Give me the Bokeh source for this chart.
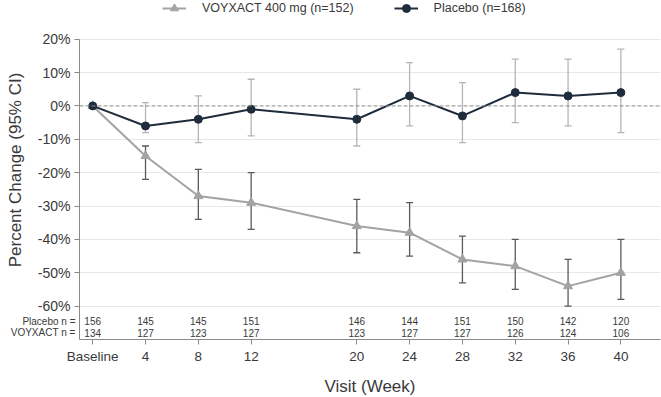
from bokeh.plotting import figure
from bokeh.models import (ColumnDataSource, Whisker, TeeHead, FixedTicker, PrintfTickFormatter,
                          Span, Legend, LegendItem, Range1d, LinearAxis)
from bokeh.embed import file_html
from bokeh.resources import INLINE

weeks = [0, 4, 8, 12, 20, 24, 28, 32, 36, 40]
placebo_mean = [0, -6, -4, -1, -4, 3, -3, 4, 3, 4]
placebo_lo = [None, -8, -11, -9, -12, -6, -11, -5, -6, -8]
placebo_hi = [None, 1, 3, 8, 5, 13, 7, 14, 14, 17]
voy_mean = [0, -15, -27, -29, -36, -38, -46, -48, -54, -50]
voy_lo = [None, -22, -34, -37, -44, -45, -53, -55, -60, -58]
voy_hi = [None, -12, -19, -20, -28, -29, -39, -40, -46, -40]
placebo_n = [156, 145, 145, 151, 146, 144, 151, 150, 142, 120]
voy_n = [134, 127, 123, 127, 123, 127, 127, 126, 124, 106]
row_labels = ["Placebo n =", "VOYXACT n ="]
row_y = [-64.5, -68.0]
y_ticks = [20, 10, 0, -10, -20, -30, -40, -50, -60]
x_labels = {0: "Baseline"}

FONT = "Liberation Sans"
PLACEBO_C = "#1f2c3b"
VOY_C = "#a3a3a3"
TXT_C = "#3a3a3a"

p = figure(frame_width=581, frame_height=339, output_backend="svg", toolbar_location=None,
           x_range=Range1d(-1.0, 43.0), y_range=Range1d(-70, 31.6),
           min_border_left=79, min_border_right=1, min_border_top=0, min_border_bottom=58)
p.outline_line_color = None
p.background_fill_color = "white"
p.border_fill_color = "white"

# grid
p.xgrid.grid_line_color = None
p.ygrid.ticker = FixedTicker(ticks=[t for t in y_ticks if t != 0])
p.ygrid.grid_line_color = "#e6e9ec"
p.ygrid.grid_line_width = 1

# axes
p.yaxis.ticker = FixedTicker(ticks=y_ticks)
p.yaxis.formatter = PrintfTickFormatter(format="%d%%")
p.yaxis.bounds = (-70, 20)
p.xaxis.ticker = FixedTicker(ticks=weeks)
p.xaxis.major_label_overrides = x_labels
for ax in (p.xaxis[0], p.yaxis[0]):
    ax.axis_line_color = "#8a8a8a"
    ax.major_tick_line_color = "#8a8a8a"
    ax.major_tick_in = 0
    ax.major_tick_out = 5
    ax.minor_tick_line_color = None
    ax.major_label_text_font = FONT
    ax.major_label_text_font_size = "14px"
    ax.major_label_text_color = TXT_C
    ax.axis_label_text_font = FONT
    ax.axis_label_text_font_size = "17px"
    ax.axis_label_text_font_style = "normal"
    ax.axis_label_text_color = TXT_C
p.xaxis.major_label_text_font_size = "13.5px"
p.xaxis.axis_label = "Visit (Week)"
p.yaxis.axis_label = "Percent Change (95% CI)"
p.xaxis.axis_label_standoff = 10
p.yaxis.axis_label_standoff = 10
p.xaxis.major_label_standoff = 4
p.yaxis.major_label_standoff = 4

# row labels of the n table, as an extra left axis
ax2 = LinearAxis(ticker=FixedTicker(ticks=row_y),
                 major_label_overrides={y: t for y, t in zip(row_y, row_labels)},
                 axis_line_color=None, major_tick_line_color=None, minor_tick_line_color=None,
                 major_tick_in=0, major_tick_out=0, major_label_standoff=-73,
                 major_label_text_font=FONT, major_label_text_font_size="10px",
                 major_label_text_color=TXT_C)
p.add_layout(ax2, "left")

p.add_layout(Span(location=0, dimension="width", line_color="#8a8a8a",
                  line_dash="4 2", line_width=1))

# error bars
ps = ColumnDataSource(dict(x=weeks[1:], lo=placebo_lo[1:], hi=placebo_hi[1:]))
vs = ColumnDataSource(dict(x=weeks[1:], lo=voy_lo[1:], hi=voy_hi[1:]))
p.add_layout(Whisker(source=ps, base="x", lower="lo", upper="hi", line_color="#b5b5b5",
                     line_width=1.3,
                     upper_head=TeeHead(size=7, line_color="#b5b5b5", line_width=1.3),
                     lower_head=TeeHead(size=7, line_color="#b5b5b5", line_width=1.3)))
p.add_layout(Whisker(source=vs, base="x", lower="lo", upper="hi", line_color="#5a5a5a",
                     line_width=1.3,
                     upper_head=TeeHead(size=7, line_color="#5a5a5a", line_width=1.3),
                     lower_head=TeeHead(size=7, line_color="#5a5a5a", line_width=1.3)))

src_p = ColumnDataSource(dict(x=weeks, y=placebo_mean))
src_v = ColumnDataSource(dict(x=weeks, y=voy_mean))
lv = p.line("x", "y", source=src_v, line_color=VOY_C, line_width=2)
mv = p.scatter("x", "y", source=src_v, marker="triangle", size=9,
               fill_color=VOY_C, line_color=VOY_C)
lp = p.line("x", "y", source=src_p, line_color=PLACEBO_C, line_width=2)
mp = p.scatter("x", "y", source=src_p, marker="circle", size=8,
               fill_color=PLACEBO_C, line_color=PLACEBO_C)

# n table
tsrc = ColumnDataSource(dict(x=weeks, pn=[str(v) for v in placebo_n], vn=[str(v) for v in voy_n]))
p.text("x", row_y[0], text="pn", source=tsrc, text_align="center", text_baseline="middle",
       text_font_size="10px", text_color=TXT_C, text_font={"value": FONT})
p.text("x", row_y[1], text="vn", source=tsrc, text_align="center", text_baseline="middle",
       text_font_size="10px", text_color=TXT_C, text_font={"value": FONT})

legend = Legend(items=[LegendItem(label="VOYXACT 400 mg (n=152)", renderers=[lv, mv]),
                       LegendItem(label="Placebo (n=168)", renderers=[lp, mp])],
                orientation="horizontal", location=(83, 321),
                label_text_font=FONT, label_text_font_size="12.5px", label_text_color=TXT_C,
                glyph_width=24, glyph_height=20, label_standoff=16, spacing=40,
                border_line_color=None, background_fill_alpha=0, padding=0, margin=0)
p.add_layout(legend)

open("out.html", "w").write(file_html(p, INLINE))
